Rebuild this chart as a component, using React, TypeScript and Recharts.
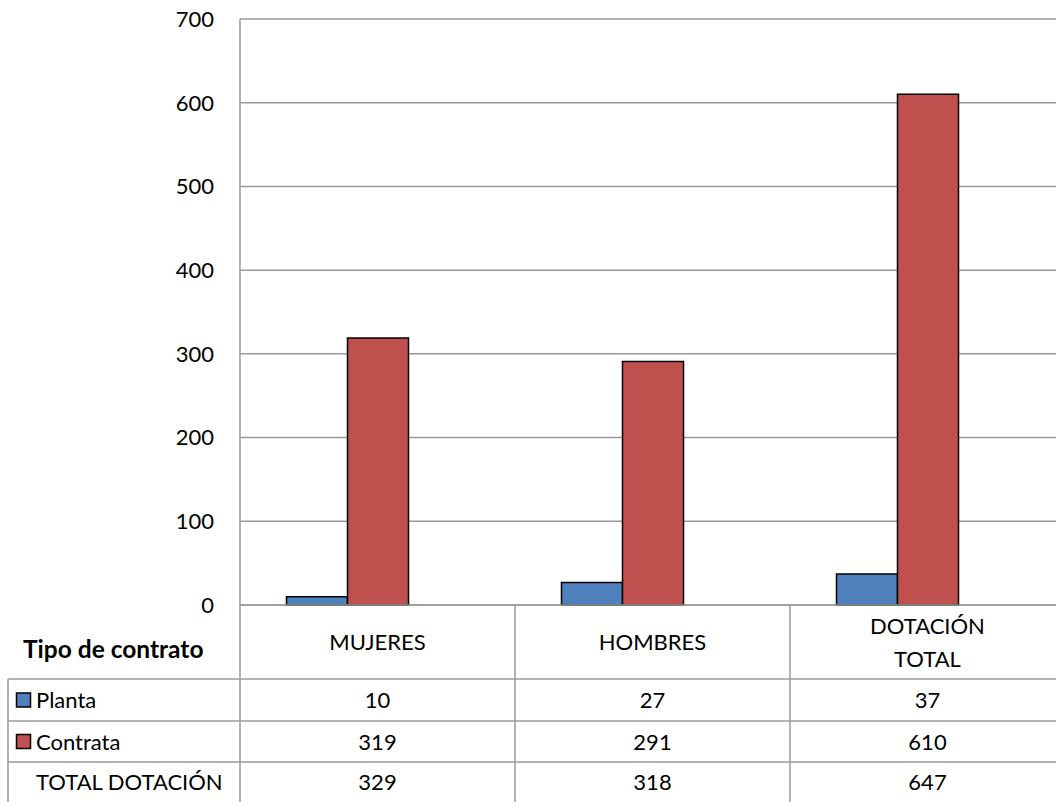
import React from "react";
import { BarChart, Bar, XAxis, YAxis, CartesianGrid } from "recharts";

const categories = ["MUJERES", "HOMBRES", "DOTACIÓN TOTAL"];
const planta = [10, 27, 37];
const contrata = [319, 291, 610];
const totalDotacion = [329, 318, 647];
const yTicks = [0, 100, 200, 300, 400, 500, 600, 700];

const BLUE = "#4f81bd";
const RED = "#c0504d";
const GRID = "#9a9a9a";
const FONT = "Lato, sans-serif";
const FS = 22;

const data = categories.map((name, i) => ({
  name,
  planta: planta[i],
  contrata: contrata[i],
  total: totalDotacion[i],
}));

// table layout (px)
const TABLE_TOP = 605;
const ROW_LINES = [679, 721, 762];
const TABLE_BOTTOM = 802;
const TABLE_LEFT = 8;
const COL_W = 275;

const rows = [
  { label: "Planta", color: BLUE, values: planta },
  { label: "Contrata", color: RED, values: contrata },
  { label: "TOTAL DOTACIÓN", color: null, values: totalDotacion },
];

const txt = { fontFamily: FONT, fontSize: FS, fill: "#000" };

function TableTick(props: any) {
  const { x, payload, index } = props;
  const left = x - COL_W / 2;
  const right = x + COL_W / 2;
  const words = String(payload.value).split(" ");
  const headerMid = (TABLE_TOP + ROW_LINES[0]) / 2;
  const rowMids = [
    (ROW_LINES[0] + ROW_LINES[1]) / 2,
    (ROW_LINES[1] + ROW_LINES[2]) / 2,
    (ROW_LINES[2] + TABLE_BOTTOM) / 2,
  ];
  return (
    <g>
      {index === 0 && (
        <g>
          <line x1={left} y1={TABLE_TOP} x2={left} y2={TABLE_BOTTOM} stroke={GRID} strokeWidth={1.5} />
          <line x1={TABLE_LEFT} y1={ROW_LINES[0]} x2={TABLE_LEFT} y2={TABLE_BOTTOM} stroke={GRID} strokeWidth={1.5} />
          {ROW_LINES.map((y) => (
            <line key={y} x1={TABLE_LEFT} y1={y} x2={left} y2={y} stroke={GRID} strokeWidth={1.5} />
          ))}
          <text x={23} y={headerMid + 16} {...txt} fontSize={24.5} fontWeight="bold">
            Tipo de contrato
          </text>
          {rows.map((r, i) => (
            <g key={r.label}>
              {r.color && (
                <rect x={16.5} y={rowMids[i] - 7} width={14} height={14} fill={r.color} stroke="#000" strokeWidth={1.5} />
              )}
              <text x={36} y={rowMids[i] + 8} {...txt}>
                {r.label}
              </text>
            </g>
          ))}
        </g>
      )}
      <line x1={right} y1={TABLE_TOP} x2={right} y2={TABLE_BOTTOM} stroke={GRID} strokeWidth={1.5} />
      {ROW_LINES.map((y) => (
        <line key={y} x1={left} y1={y} x2={right} y2={y} stroke={GRID} strokeWidth={1.5} />
      ))}
      {words.length > 1 && words.join(" ").length > 10 ? (
        words.map((w, k) => (
          <text key={w} x={x} y={headerMid + 8 + (k - (words.length - 1) / 2) * 33} textAnchor="middle" {...txt}>
            {w}
          </text>
        ))
      ) : (
        <text x={x} y={headerMid + 8} textAnchor="middle" {...txt}>
          {payload.value}
        </text>
      )}
      {rows.map((r, i) => (
        <text key={r.label} x={x} y={rowMids[i] + 8} textAnchor="middle" {...txt}>
          {r.values[index]}
        </text>
      ))}
    </g>
  );
}

export default function App() {
  return (
    <div style={{ position: "absolute", left: 0, top: 0, width: 1056, height: 802, overflow: "hidden", background: "#fff" }}>
      <BarChart
        width={1066}
        height={802}
        data={data}
        margin={{ top: 19, right: 1, left: 0, bottom: 0 }}
        barGap={0}
        barSize={61}
      >
        <CartesianGrid vertical={false} stroke={GRID} strokeWidth={1.5} />
        <XAxis
          dataKey="name"
          height={197}
          axisLine={{ stroke: GRID, strokeWidth: 1.5 }}
          tickLine={false}
          tick={<TableTick />}
          interval={0}
        />
        <XAxis
          xAxisId="bars"
          dataKey="name"
          hide
          padding={{ left: -30.5, right: 30.5 }}
        />
        <YAxis
          width={240}
          domain={[0, 700]}
          ticks={yTicks}
          axisLine={{ stroke: GRID, strokeWidth: 1.5 }}
          tickLine={false}
          tickSize={0}
          tickMargin={26}
          tick={{ fontSize: FS, fill: "#000", fontFamily: FONT }}
        />
        <Bar dataKey="planta" xAxisId="bars" fill={BLUE} stroke="#000" strokeWidth={1.5} isAnimationActive={false} />
        <Bar dataKey="contrata" xAxisId="bars" fill={RED} stroke="#000" strokeWidth={1.5} isAnimationActive={false} />
      </BarChart>
    </div>
  );
}
